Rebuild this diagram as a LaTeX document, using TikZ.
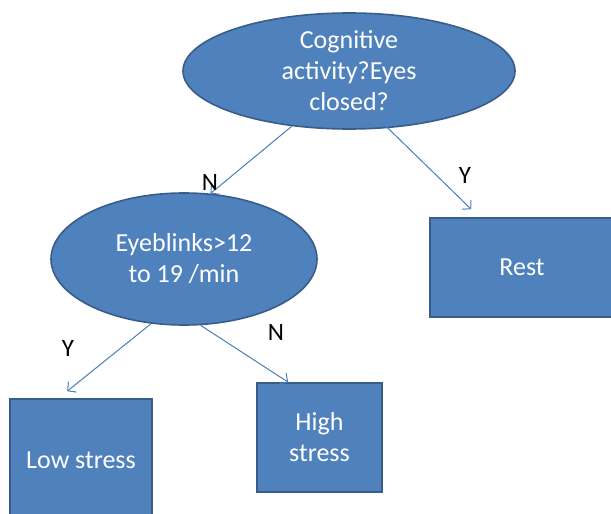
\documentclass[tikz,border=0pt]{standalone}
\usepackage{fontspec}
\setmainfont{Carlito}
\usetikzlibrary{shapes.geometric,arrows.meta}
\definecolor{boxfill}{HTML}{4F81BD}
\definecolor{boxdraw}{HTML}{385D8A}
\definecolor{arrcol}{HTML}{4A7EBB}
\tikzset{
  txt/.style={text=white,font=\fontsize{26}{31}\selectfont,align=center,inner sep=0pt},
  oval/.style={ellipse,fill=boxfill,draw=boxdraw,line width=1.6pt,txt},
  rbox/.style={rectangle,fill=boxfill,draw=boxdraw,line width=1.6pt,txt},
  arr/.style={draw=arrcol,line width=1pt,-{Straight Barb[length=6pt,width=13pt]}},
  lbl/.style={font=\fontsize{25}{30}\selectfont,text=black,inner sep=0pt}
}
\begin{document}
\begin{tikzpicture}[x=1pt,y=-1pt]
\useasboundingbox (0,0) rectangle (611,514);
\clip (0,0) rectangle (611,514);
\node[oval,minimum width=332pt,minimum height=116pt] (e1) at (349,71) {Cognitive\\activity?Eyes\\closed?};
\node[oval,minimum width=266pt,minimum height=132pt] (e2) at (184,259) {Eyeblinks>12\\to 19 /min};
\node[rbox,minimum width=184pt,minimum height=99pt] (rest) at (522,267.5) {Rest};
\node[rbox,minimum width=142pt,minimum height=122pt] (low) at (81,460) {Low stress};
\node[rbox,minimum width=125pt,minimum height=109pt] (high) at (319.5,437.5) {High\\stress};
\draw[arr] (e1.224) -- (e2.68);
\draw[arr] ([yshift=6pt]e1.300) -- ([xshift=42pt,yshift=8pt]rest.north west);
\draw[arr] (e2.243) -- ([xshift=58pt,yshift=7pt]low.north west);
\draw[arr] (e2.284) -- ([xshift=32pt]high.north west);
\node[lbl] (n1) at (210,182) {N};
\node[lbl] (y1) at (465,175) {Y};
\node[lbl] (y2) at (68,348) {Y};
\node[lbl] (n2) at (276,332) {N};
\end{tikzpicture}
\end{document}
